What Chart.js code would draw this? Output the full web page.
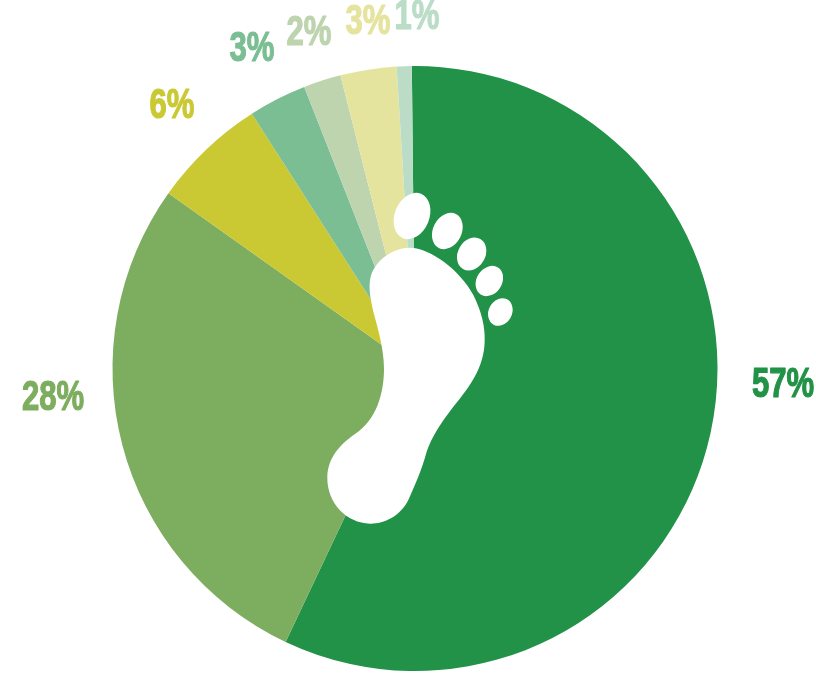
<!DOCTYPE html>
<html>
<head>
<meta charset="utf-8">
<style>
html,body{margin:0;padding:0;background:#fff;overflow:hidden;}
canvas{display:block;}
</style>
<script src="https://cdn.jsdelivr.net/npm/chart.js@4/dist/chart.umd.min.js"></script>
</head>
<body>
<canvas id="c" width="816" height="681"></canvas>
<script>
const categories = ["A", "B", "C", "D", "E", "F", "G"];
const values = [57.2, 27.8, 6.1, 3.1, 2, 3, 0.8];
const colors = ["#219247", "#7DAD5F", "#CAC934", "#7BBE93", "#BDD4AE", "#E5E49E", "#BBDDC7"];

// Label centres relative to the pie centre
const labelOffsets = [[368,17],[-362,30],[-243,-262],[-163,-319],[-106,-335],[-47,-346],[2,-351]];

const footPlugin = {
  id: 'foot',
  afterDatasetsDraw(chart) {
    const arc = chart.getDatasetMeta(0).data[0];
    const ctx = chart.ctx;
    ctx.save();
    ctx.translate(arc.x - 95, arc.y - 188.5);
    ctx.scale(1/3, 1/3);
    ctx.fillStyle = '#fff';
    ctx.beginPath();
    ctx.moveTo(270,203);
    ctx.bezierCurveTo(330,203,420,270,460,345);
    ctx.bezierCurveTo(485,395,495,440,494,480);
    ctx.bezierCurveTo(494,560,450,620,400,680);
    ctx.bezierCurveTo(365,725,335,770,320,815);
    ctx.bezierCurveTo(305,870,285,915,265,960);
    ctx.bezierCurveTo(240,1010,190,1032,150,1031);
    ctx.bezierCurveTo(80,1030,22,970,22,895);
    ctx.bezierCurveTo(22,830,65,790,105,762);
    ctx.bezierCurveTo(170,720,192,640,192,565);
    ctx.bezierCurveTo(192,510,175,450,160,395);
    ctx.bezierCurveTo(150,350,145,320,152,290);
    ctx.bezierCurveTo(165,240,220,203,270,203);
    ctx.closePath();
    ctx.fill();
    const toes = [[276,108,52,72,22],[382,153,43,57,27],[455,222,41,52,30],[508,303,38,48,33],[541,396,35,43,28]];
    for (const [x,y,rx,ry,r] of toes) {
      ctx.beginPath();
      ctx.ellipse(x,y,rx,ry,r*Math.PI/180,0,Math.PI*2);
      ctx.fill();
    }
    ctx.restore();
  }
};

const labelPlugin = {
  id: 'pctLabels',
  afterDraw(chart) {
    const arc = chart.getDatasetMeta(0).data[0];
    const ctx = chart.ctx;
    ctx.font = 'bold 42px "Liberation Sans", Arial, sans-serif';
    ctx.textAlign = 'center';
    ctx.textBaseline = 'middle';
    ctx.lineWidth = 1.2;
    ctx.lineJoin = 'round';
    values.forEach((v,i) => {
      ctx.save();
      ctx.translate(arc.x + labelOffsets[i][0], arc.y + labelOffsets[i][1]);
      ctx.scale(0.74, 1);
      ctx.fillStyle = colors[i];
      ctx.strokeStyle = colors[i];
      const t = Math.round(v) + '%';
      ctx.fillText(t, 0, 0);
      ctx.strokeText(t, 0, 0);
      ctx.restore();
    });
  }
};

new Chart(document.getElementById('c'), {
  type: 'pie',
  data: {
    labels: categories,
    datasets: [{ data: values, backgroundColor: colors, borderWidth: 0 }]
  },
  options: {
    responsive: false,
    animation: false,
    rotation: -0.6,
    layout: { padding: { left: 112.5, right: 98.5, top: 66, bottom: 10 } },
    plugins: { legend: { display: false }, tooltip: { enabled: false } }
  },
  plugins: [footPlugin, labelPlugin]
});
</script>
</body>
</html>
